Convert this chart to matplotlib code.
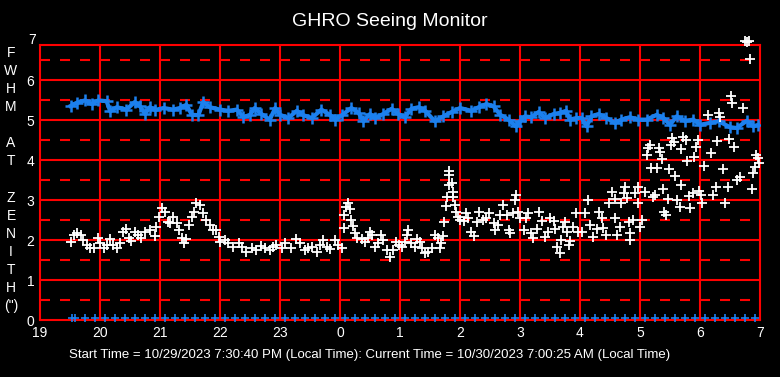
'''
GHRO seeing monitor, one night
'''

import numpy as np
import matplotlib
matplotlib.use('Agg')
import matplotlib.pyplot as plt
from matplotlib.transforms import offset_copy

plt.rcParams['font.family'] = ['Liberation Sans', 'DejaVu Sans']
plt.rcParams['lines.scale_dashes'] = False

# ═══ Data ═════════════════════════════════════════════════════════════════

# hours after midnight of the first day (24 = 0h, 31 = 7h next morning)

# ─── Seeing (white)
seeing_t = [19.52, 19.56, 19.62, 19.68, 19.72, 19.78, 19.83, 19.90, 19.96, 20.00,
            20.06, 20.11, 20.17, 20.22, 20.28, 20.33, 20.38, 20.43, 20.49, 20.51,
            20.58, 20.64, 20.69, 20.75, 20.83, 20.92, 20.94, 20.99, 21.03, 21.08,
            21.13, 21.17, 21.22, 21.28, 21.32, 21.36, 21.40, 21.44, 21.49, 21.53,
            21.57, 21.60, 21.66, 21.71, 21.77, 21.83, 21.89, 21.94, 21.99,
            22.00, 22.08, 22.14, 22.22, 22.31, 22.36, 22.43, 22.53, 22.60, 22.68,
            22.75, 22.83, 22.89, 22.94, 23.03, 23.08, 23.18, 23.27, 23.33, 23.42,
            23.47, 23.53, 23.61, 23.67, 23.71, 23.78, 23.83, 23.92, 23.97, 24.03,
            24.06, 24.07, 24.10, 24.13, 24.16, 24.18, 24.22, 24.25, 24.29, 24.36,
            24.42, 24.46, 24.50, 24.54, 24.58, 24.64, 24.69, 24.72, 24.78, 24.83,
            24.89, 24.94, 24.99,
            25.03, 25.08, 25.11, 25.14, 25.19, 25.25, 25.28, 25.33, 25.36, 25.42,
            25.47, 25.53, 25.58, 25.64, 25.67, 25.69, 25.72, 25.74, 25.76, 25.78,
            25.81, 25.82, 25.81, 25.86, 25.88, 25.89, 25.92, 25.94, 25.97, 26.00,
            26.06, 26.10, 26.14, 26.19, 26.23, 26.28, 26.32, 26.39, 26.44, 26.49,
            26.56, 26.58, 26.64, 26.67, 26.72, 26.78, 26.81, 26.83, 26.89, 26.93,
            26.92, 26.97, 27.00, 27.06, 27.10, 27.14, 27.18, 27.22, 27.28, 27.31,
            27.36, 27.42, 27.47, 27.50, 27.56, 27.58, 27.61, 27.66, 27.68, 27.71,
            27.75, 27.78, 27.81, 27.84, 27.89, 27.93, 27.97,
            28.03, 28.08, 28.14, 28.17, 28.22, 28.28, 28.32, 28.36, 28.39, 28.43,
            28.49, 28.53, 28.58, 28.58, 28.62, 28.67, 28.69, 28.73, 28.75, 28.78,
            28.81, 28.83, 28.84, 28.88, 28.92, 28.96, 28.97, 29.00, 29.03, 29.08,
            29.11, 29.14, 29.16, 29.18, 29.21, 29.25, 29.29, 29.32, 29.34, 29.36,
            29.38, 29.40, 29.44, 29.47, 29.49, 29.51, 29.54, 29.56, 29.59, 29.61,
            29.66, 29.68, 29.69, 29.72, 29.77, 29.78, 29.81, 29.83, 29.88, 29.90,
            29.93, 29.96, 29.99, 30.01, 30.04, 30.07, 30.14, 30.18, 30.21, 30.27,
            30.29, 30.32, 30.34, 30.38, 30.42, 30.47, 30.49, 30.52, 30.54, 30.57,
            30.61, 30.67, 30.71, 30.75, 30.78, 30.81, 30.84, 30.86, 30.89, 30.92,
            30.94, 30.97, 30.99]
seeing_v = [1.94, 2.13, 2.17, 2.13, 2.00, 1.88, 1.79, 1.81, 2.04, 1.93,
            1.79, 1.88, 2.02, 1.88, 1.79, 1.92, 2.21, 2.27, 2.04, 1.98,
            2.21, 2.13, 2.04, 2.21, 2.25, 2.10, 2.33, 2.58, 2.79, 2.71,
            2.46, 2.42, 2.57, 2.42, 2.25, 2.04, 1.93, 2.02, 2.38, 2.58,
            2.71, 2.92, 2.88, 2.67, 2.50, 2.38, 2.25, 2.25, 2.08,
            1.96, 2.00, 1.93, 1.83, 1.93, 1.83, 1.71, 1.79, 1.75, 1.85,
            1.79, 1.75, 1.83, 1.88, 1.79, 1.93, 1.79, 2.02, 1.92, 1.75,
            1.79, 1.83, 1.71, 1.88, 2.00, 1.83, 1.77, 2.00, 1.88, 1.79,
            2.29, 2.63, 2.83, 2.93, 2.77, 2.50, 2.35, 2.17, 2.04, 2.02,
            1.96, 2.04, 2.21, 2.13, 1.83, 1.92, 2.13, 2.00, 1.75, 1.58,
            1.75, 1.96, 1.88,
            1.83, 1.96, 2.13, 2.25, 1.92, 1.83, 2.02, 1.96, 1.79, 1.67,
            1.71, 1.79, 2.13, 2.04, 1.79, 1.92, 2.10, 2.46, 2.85, 3.08,
            3.73, 3.63, 3.38, 3.42, 3.21, 3.07, 2.88, 2.71, 2.58, 2.50,
            2.48, 2.68, 2.54, 2.21, 2.10, 2.46, 2.71, 2.50, 2.54, 2.68,
            2.43, 2.25, 2.38, 2.63, 2.88, 2.63, 2.25, 2.17, 2.67, 3.13,
            3.00, 2.71, 2.54, 2.25, 2.54, 2.68, 2.17, 2.04, 2.27, 2.71,
            2.48, 2.07, 2.21, 2.54, 2.48, 2.27, 1.83, 1.67, 2.00, 2.33,
            2.46, 2.21, 1.88, 1.98, 2.32, 2.67, 2.21,
            2.21, 2.67, 3.00, 2.38, 2.07, 2.27, 2.71, 2.54, 2.29, 2.13,
            2.92, 3.21, 2.54, 3.02, 2.13, 2.32, 2.93, 3.17, 3.33, 3.04,
            2.46, 2.17, 2.00, 2.50, 3.18, 3.33, 2.92, 2.33, 2.50, 3.21,
            4.13, 4.29, 4.38, 3.79, 3.08, 3.13, 3.79, 4.29, 4.21, 4.02,
            3.27, 2.71, 2.63, 3.02, 3.77, 4.38, 4.54, 4.46, 3.60, 3.00,
            2.83, 3.38, 4.27, 4.57, 4.50, 3.98, 3.10, 2.79, 3.18, 4.08,
            4.32, 4.50, 3.23, 3.13, 2.93, 3.85, 5.13, 4.18, 3.13, 3.33,
            4.48, 5.18, 5.07, 3.77, 2.93, 3.33, 4.52, 5.60, 5.43, 4.32,
            3.50, 3.57, 5.29, 6.98, 6.96, 6.98, 6.52, 3.27, 3.67, 3.83,
            4.13, 4.04, 3.93]

# ─── Second series (blue)
blue_t = [19.51, 19.61, 19.75, 19.86, 19.97, 20.11, 20.17, 20.28, 20.44, 20.58,
          20.67, 20.75, 20.83, 20.92, 21.06, 21.22, 21.33, 21.44, 21.53, 21.64,
          21.72, 21.83, 22.00, 22.14, 22.28, 22.39, 22.50, 22.58, 22.69, 22.83,
          22.92, 23.00, 23.14, 23.28, 23.39, 23.53, 23.69, 23.83, 23.92, 24.03,
          24.19, 24.31, 24.39, 24.50, 24.58, 24.72, 24.86, 24.97,
          25.08, 25.19, 25.31, 25.42, 25.58, 25.72, 25.86, 26.00, 26.19, 26.31,
          26.44, 26.56, 26.67, 26.81, 26.93, 27.00, 27.08, 27.19, 27.31, 27.42,
          27.56, 27.67, 27.77, 27.83, 27.94, 28.03, 28.11, 28.19, 28.31, 28.44,
          28.58, 28.69, 28.83, 28.97, 29.11, 29.28, 29.39, 29.50, 29.61, 29.75,
          29.89, 30.00, 30.17, 30.31, 30.50, 30.61, 30.78, 30.89, 30.97]
blue_v = [5.35, 5.43, 5.49, 5.40, 5.49, 5.47, 5.22, 5.32, 5.26, 5.45,
          5.34, 5.15, 5.32, 5.25, 5.30, 5.26, 5.30, 5.38, 5.13, 5.12,
          5.45, 5.32, 5.26, 5.23, 5.26, 5.07, 5.13, 5.30, 5.15, 5.01,
          5.30, 5.13, 5.05, 5.23, 5.12, 5.05, 5.26, 5.13, 5.01, 5.12,
          5.30, 5.18, 4.97, 5.15, 5.05, 5.15, 5.28, 5.15,
          5.07, 5.28, 5.32, 5.23, 4.97, 5.09, 5.20, 5.30, 5.23, 5.32,
          5.40, 5.34, 5.13, 5.01, 4.84, 4.97, 5.09, 5.07, 5.20, 5.05,
          5.15, 5.18, 5.23, 5.01, 5.05, 5.05, 4.84, 5.09, 5.15, 5.05,
          4.93, 5.01, 5.07, 5.01, 5.01, 5.13, 5.05, 4.88, 5.09, 4.98,
          5.01, 4.88, 4.93, 4.97, 4.82, 4.80, 4.98, 4.84, 4.88]

# ─── Blue markers on the zero line (minutes after 19:00)
zero_min = [32, 35, 45, 55, 65, 75, 85, 95, 105, 115, 125, 135, 145, 155, 165,
            175, 185, 195, 205, 215, 225, 235, 245, 255, 265, 275, 285, 295,
            305, 315, 325, 335, 345, 355, 365, 375, 385, 395, 405, 415, 425,
            435, 445, 455, 465, 475, 485, 495, 505, 515, 525, 535, 545, 555,
            565, 575, 585, 595, 605, 615, 625, 635, 645, 655, 665, 675, 685,
            695, 705, 715]
zero_v = [0]*len(zero_min)

hour_ticks = list(range(19, 32))
hour_labels = ['19', '20', '21', '22', '23', '0', '1', '2', '3', '4', '5', '6', '7']
y_ticks = [0, 1, 2, 3, 4, 5, 6]

title = 'GHRO Seeing Monitor'
side_label = ['F', 'W', 'H', 'M', '', 'A', 'T', '', 'Z', 'E', 'N', 'I', 'T', 'H', '(")']
footer = ('Start Time = 10/29/2023 7:30:40 PM (Local Time): '
          'Current Time = 10/30/2023 7:00:25 AM (Local Time)')

# ═══ Figure ═══════════════════════════════════════════════════════════════

RED = '#ff0000'
BLUE = '#1c80ee'
W, H = 780, 377

fig = plt.figure(figsize=(W/100, H/100), dpi=100, facecolor='black')
ax = fig.add_axes([40/W, 57/H, 720/W, 275/H], facecolor='black')

ax.set_xlim(19, 31)
ax.set_ylim(0, 6.875)

# grid
for h in hour_ticks[1:-1]:
    ax.axvline(h, color=RED, lw=1.5, zorder=1)
for y in y_ticks[1:]:
    ax.axhline(y, color=RED, lw=1.5, zorder=1)
for y in np.arange(0.5, 7, 1.0):
    ax.axhline(y, color=RED, lw=1.5, dashes=(7.2, 7.2), zorder=1)

for s in ax.spines.values():
    s.set_color(RED)
    s.set_linewidth(1.5)

# data
ax.plot(blue_t, blue_v, color=BLUE, lw=3, marker='+', ms=8, mew=1.8, zorder=3)
# zero-line markers sit a couple of pixels above the bottom frame
lifted = offset_copy(ax.transData, fig=fig, y=2.5, units='dots')
ax.plot(np.array(zero_min)/60 + 19, zero_v, ls='none', color=BLUE, marker='+',
        ms=5.5, mew=1.2, zorder=4, clip_on=False, transform=lifted)
ax.plot(seeing_t, seeing_v, ls='none', color='white', marker='+', ms=6.5, mew=1.3,
        zorder=5, clip_on=False)

# ticks
ax.set_xticks(hour_ticks)
ax.set_xticklabels(hour_labels)
ax.set_yticks(y_ticks)
ax.tick_params(length=0, colors='white', labelsize=10)
ax.tick_params(axis='y', pad=4)
ax.tick_params(axis='x', pad=4)
ax.text(-0.006, 7, '7', transform=ax.get_yaxis_transform(), ha='right', va='center',
        color='white', fontsize=10, clip_on=False)

fig.text(390/W, 1 - 21/H, title, ha='center', va='center', color='white', fontsize=14)

for i, ch in enumerate(side_label):
    fig.text(11/W, 1 - (53 + 18.07*i)/H, ch, ha='center', va='center',
             color='white', fontsize=10)

fig.text(370/W, 1 - 355/H, footer, ha='center', va='center', color='white',
         fontsize=9.5, family=['Liberation Sans Narrow', 'Liberation Sans'])

fig.savefig('out.png', dpi=100, facecolor='black')
